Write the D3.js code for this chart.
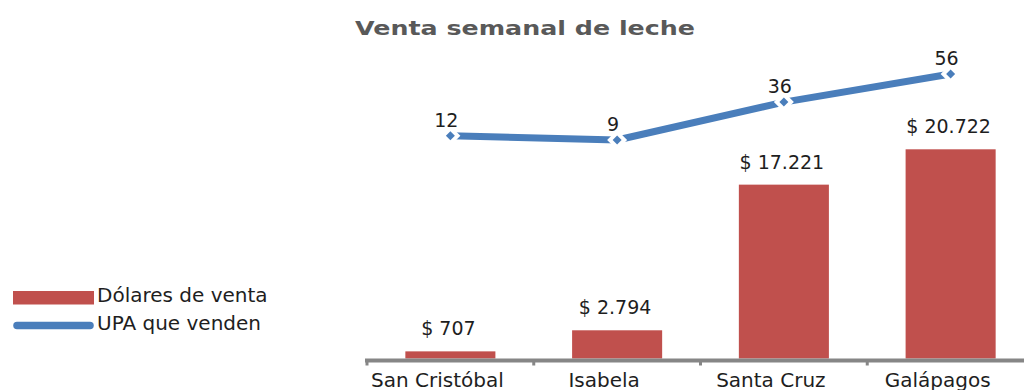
<!DOCTYPE html>
<html>
<head>
<meta charset="utf-8">
<script src="https://cdn.jsdelivr.net/npm/d3@7"></script>
<style>
  html, body { margin: 0; padding: 0; background: #fff; }
  svg { display: block; }
  text { font-family: "DejaVu Sans", sans-serif; }
</style>
</head>
<body>
<svg id="chart" width="1024" height="390"></svg>
<script>
// Weekly milk sales by island
const categories = ["San Cristóbal", "Isabela", "Santa Cruz", "Galápagos"];
const salesDollars = [707, 2794, 17221, 20722];
const salesLabels = ["$ 707", "$ 2.794", "$ 17.221", "$ 20.722"];
const upaCounts = [12, 9, 36, 56];
const seriesNames = ["Dólares de venta", "UPA que venden"];
const chartTitle = "Venta semanal de leche";

const barColor = "#c0504d";
const lineColor = "#4a7ebb";
const axisColor = "#868686";
const textColor = "#1e1e1e";

const svg = d3.select("#chart");

// Category axis runs off the right edge
const x = d3.scaleBand()
  .domain(categories)
  .range([367, 1034])
  .paddingInner(0.46)
  .paddingOuter(0.23);

const baseline = 358.5;
const yBar = d3.scaleLinear().domain([0, 20722]).range([baseline, 149.3]);
// secondary axis for the UPA line
const yLine = d3.scaleLinear().domain([0, 60]).range([152.6, 68.4]);

const cx = d => x(d) + x.bandwidth() / 2;

// Title
svg.append("text")
  .attr("x", 355)
  .attr("y", 34.5)
  .attr("textLength", 340)
  .attr("lengthAdjust", "spacingAndGlyphs")
  .attr("font-size", 20)
  .attr("font-weight", "bold")
  .attr("fill", "#595959")
  .text(chartTitle);

// Bars
svg.append("g").selectAll("rect")
  .data(salesDollars)
  .join("rect")
  .attr("x", (d, i) => x(categories[i]))
  .attr("y", d => yBar(d))
  .attr("width", x.bandwidth())
  .attr("height", d => baseline - yBar(d))
  .attr("fill", barColor);

// Bar value labels
svg.append("g").selectAll("text")
  .data(salesDollars)
  .join("text")
  .attr("x", (d, i) => cx(categories[i]) - 2)
  .attr("y", d => yBar(d) - 16)
  .attr("text-anchor", "middle")
  .attr("font-size", 19)
  .attr("fill", textColor)
  .text((d, i) => salesLabels[i]);

// Category axis
const axis = svg.append("g")
  .attr("transform", `translate(0,${baseline + 2})`)
  .call(d3.axisBottom(x).tickSize(0).tickFormat(""));
axis.select(".domain").remove();
axis.append("line")
  .attr("x1", 365).attr("x2", 1024)
  .attr("y1", 0).attr("y2", 0)
  .attr("stroke", axisColor).attr("stroke-width", 4);
// tick marks sit at the band boundaries
axis.selectAll(".boundary")
  .data(categories)
  .join("line")
  .attr("class", "boundary")
  .attr("x1", d => x(d) - x.step() * x.paddingInner() / 2)
  .attr("x2", d => x(d) - x.step() * x.paddingInner() / 2)
  .attr("y1", 0).attr("y2", 5)
  .attr("stroke", axisColor).attr("stroke-width", 3);

svg.append("g").selectAll("text")
  .data(categories)
  .join("text")
  .attr("x", d => cx(d) - 13)
  .attr("y", 387)
  .attr("text-anchor", "middle")
  .attr("font-size", 20)
  .attr("fill", textColor)
  .text(d => d);

// UPA line
const line = d3.line()
  .x((d, i) => cx(categories[i]))
  .y(d => yLine(d));

svg.append("path")
  .datum(upaCounts)
  .attr("d", line)
  .attr("fill", "none")
  .attr("stroke", lineColor)
  .attr("stroke-width", 7)
  .attr("stroke-linejoin", "round");

const diamond = r => `M0,${-r}L${r},0L0,${r}L${-r},0Z`;
const markers = svg.append("g").selectAll("g")
  .data(upaCounts)
  .join("g")
  .attr("transform", (d, i) => `translate(${cx(categories[i])},${yLine(d)})`);
markers.append("path").attr("d", diamond(10)).attr("fill", "#fff");
markers.append("path").attr("d", diamond(4.5)).attr("fill", lineColor);

svg.append("g").selectAll("text")
  .data(upaCounts)
  .join("text")
  .attr("x", (d, i) => cx(categories[i]) - 4)
  .attr("y", d => yLine(d) - 9)
  .attr("text-anchor", "middle")
  .attr("font-size", 19)
  .attr("fill", textColor)
  .text(d => d);

// Legend
const legend = svg.append("g");
legend.append("rect")
  .attr("x", 13).attr("y", 291)
  .attr("width", 81).attr("height", 13.5)
  .attr("fill", barColor);
legend.append("line")
  .attr("x1", 17).attr("x2", 90)
  .attr("y1", 325.5).attr("y2", 325.5)
  .attr("stroke", lineColor).attr("stroke-width", 7.5)
  .attr("stroke-linecap", "round");
legend.selectAll("text")
  .data(seriesNames)
  .join("text")
  .attr("x", 97)
  .attr("y", (d, i) => 302 + i * 28)
  .attr("font-size", 20)
  .attr("fill", textColor)
  .text(d => d);
</script>
</body>
</html>
